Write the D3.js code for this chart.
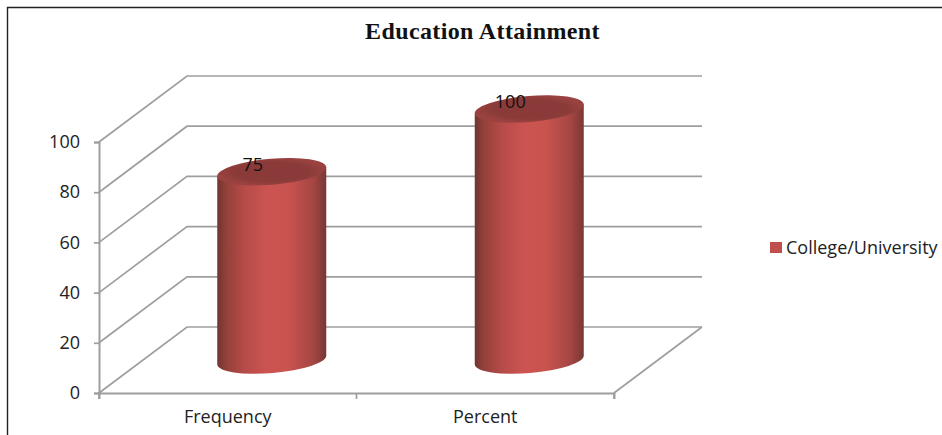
<!DOCTYPE html>
<html>
<head>
<meta charset="utf-8">
<script src="https://cdn.jsdelivr.net/npm/d3@7"></script>
<style>
  html, body { margin: 0; padding: 0; background: #fff; }
  svg { display: block; }
  text { font-family: "Open Sans", "Noto Sans", sans-serif; fill: #222; }
</style>
</head>
<body>
<div id="chart"></div>
<script>
// Chart data
var categories = ["Frequency", "Percent"];
var values = [75, 100];
var yTicks = [0, 20, 40, 60, 80, 100];
var seriesName = "College/University";
var chartTitle = "Education Attainment";

var WIDTH = 942, HEIGHT = 435;

// Floor depth of the fake 3d box, in pixels
var DEPTH_X = 88, DEPTH_Y = -66;

var svg = d3.select("#chart").append("svg")
    .attr("width", WIDTH)
    .attr("height", HEIGHT);

var x = d3.scaleBand().domain(categories).range([99, 614]);
var y = d3.scaleLinear().domain([0, 100]).range([393, 142]);

// Gradients for the cylinder side
var defs = svg.append("defs");
var side = defs.append("linearGradient")
    .attr("id", "cylSide")
    .attr("x1", "0%").attr("x2", "100%")
    .attr("y1", "0%").attr("y2", "0%");
side.append("stop").attr("offset", "0%").attr("stop-color", "#713432");
side.append("stop").attr("offset", "8%").attr("stop-color", "#934039");
side.append("stop").attr("offset", "25%").attr("stop-color", "#b64b48");
side.append("stop").attr("offset", "45%").attr("stop-color", "#cb5451");
side.append("stop").attr("offset", "65%").attr("stop-color", "#c9534f");
side.append("stop").attr("offset", "88%").attr("stop-color", "#a54643");
side.append("stop").attr("offset", "100%").attr("stop-color", "#783735");

// Top cap is a bit lighter round the rim
var cap = defs.append("radialGradient").attr("id", "cylTop");
cap.append("stop").attr("offset", "70%").attr("stop-color", "#8a3b39");
cap.append("stop").attr("offset", "100%").attr("stop-color", "#9a4240");

// Chart border, open on the right and bottom
svg.append("path")
    .attr("d", "M7.5,435V7.5H" + WIDTH)
    .attr("fill", "none")
    .attr("stroke", "#222")
    .attr("stroke-width", 1.4);

// Title
svg.append("text")
    .attr("x", 482.5)
    .attr("y", 39)
    .attr("text-anchor", "middle")
    .style("font-family", "'Liberation Serif', serif")
    .style("font-weight", "bold")
    .style("font-size", "24px")
    .style("letter-spacing", "0.37px")
    .style("fill", "#111")
    .text(chartTitle);

var gridColour = "#9e9e9e";
var backX = x.range()[0] + DEPTH_X;
var backRight = x.range()[1] + DEPTH_X;

// Back wall gridlines and the side wall diagonals
var grid = svg.append("g").attr("fill", "none").attr("stroke", gridColour).attr("stroke-width", 1.7);
grid.selectAll("path")
    .data(yTicks)
    .enter().append("path")
    .attr("d", function (d) {
        return "M" + x.range()[0] + "," + y(d) +
               "L" + backX + "," + (y(d) + DEPTH_Y) +
               "H" + backRight;
    });

// Right side of the floor
grid.append("path")
    .attr("d", "M" + x.range()[1] + "," + y(0) +
               "L" + backRight + "," + (y(0) + DEPTH_Y));

// Axes
var yAxis = d3.axisLeft(y).tickValues(yTicks).tickSize(5).tickPadding(14);
var yG = svg.append("g").attr("transform", "translate(" + x.range()[0] + ",0)").call(yAxis);

var xAxis = d3.axisBottom(x).tickSize(6).tickPadding(11);
var xG = svg.append("g").attr("transform", "translate(0," + y(0) + ")").call(xAxis);

// Tick marks sit on band edges
xG.selectAll(".tick line").remove();
xG.selectAll(".edge")
    .data([x.range()[0], x.range()[0] + x.step(), x.range()[1]])
    .enter().append("line")
    .attr("class", "edge")
    .attr("x1", function (d) { return d; })
    .attr("x2", function (d) { return d; })
    .attr("y1", 0)
    .attr("y2", 6)
    .attr("stroke", gridColour)
    .attr("stroke-width", 1.7);

[yG, xG].forEach(function (g) {
    g.select(".domain").attr("stroke", gridColour).attr("stroke-width", 2);
    g.selectAll(".tick line").attr("stroke", gridColour).attr("stroke-width", 1.7);
    g.selectAll("text")
        .style("font-family", "'Open Sans', sans-serif")
        .style("font-size", "18px")
        .style("fill", "#222");
});

// Cylinders stand in the middle of the floor depth
var RX = 54.5, RY = 13, TILT = -4.8;
var tiltRise = RX * Math.sin(-TILT * Math.PI / 180);

var bars = svg.selectAll(".bar")
    .data(categories)
    .enter().append("g")
    .attr("class", "bar");

var centreX = function (c) { return x(c) + x.bandwidth() / 2 + DEPTH_X / 2; };
var barY = function (v) { return y(v) + DEPTH_Y / 2; };

bars.append("path")
    .attr("fill", "url(#cylSide)")
    .attr("d", function (c, i) {
        var cx = centreX(c), top = barY(values[i]), base = barY(0);
        return "M" + (cx - RX) + "," + (top + tiltRise) +
               "L" + (cx - RX) + "," + (base + tiltRise) +
               "A" + RX + "," + RY + " " + TILT + " 0 0 " + (cx + RX) + "," + (base - tiltRise) +
               "L" + (cx + RX) + "," + (top - tiltRise) + "Z";
    });

bars.append("path")
    .attr("fill", "url(#cylTop)")
    .attr("d", function (c, i) {
        var cx = centreX(c), top = barY(values[i]);
        return "M" + (cx - RX) + "," + (top + tiltRise) +
               "A" + RX + "," + RY + " " + TILT + " 1 1 " + (cx + RX) + "," + (top - tiltRise) +
               "A" + RX + "," + RY + " " + TILT + " 1 1 " + (cx - RX) + "," + (top + tiltRise) + "Z";
    });

// Data labels
bars.append("text")
    .attr("x", function (c, i) { return centreX(c) - (i === 0 ? 19 : 19); })
    .attr("y", function (c, i) { return barY(values[i]) - 1; })
    .attr("text-anchor", "middle")
    .style("font-size", "18px")
    .style("fill", "#111")
    .text(function (c, i) { return values[i]; });

// Legend
svg.append("rect")
    .attr("x", 770)
    .attr("y", 242)
    .attr("width", 12)
    .attr("height", 11)
    .attr("fill", "#c0504d");
svg.append("text")
    .attr("x", 786)
    .attr("y", 254)
    .style("font-size", "18px")
    .text(seriesName);
</script>
</body>
</html>
